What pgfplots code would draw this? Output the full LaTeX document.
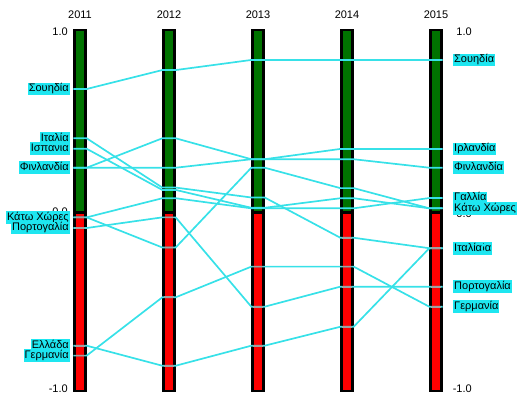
\documentclass[border=0pt]{standalone}
\usepackage{pgfplots}
\pgfplotsset{compat=1.18}
\usepackage{fontspec}
\setmainfont{Liberation Sans}
\definecolor{barg}{RGB}{0,115,0}
\definecolor{barr}{RGB}{255,0,0}
\definecolor{linec}{RGB}{55,225,232}
\definecolor{labc}{RGB}{30,230,240}
\definecolor{segg}{RGB}{160,160,160}
\newcommand{\lf}{\fontsize{11bp}{13bp}\selectfont}
% bar: outer left, outer right, inner left, inner right
\newcommand{\ybox}[4]{%
\addplot[draw=none, fill=black] coordinates {(#1,-1.0055)(#2,-1.0055)(#2,1.0055)(#1,1.0055)} -- cycle;
\addplot[draw=none, fill=barg] coordinates {(#3,-0.003)(#4,-0.003)(#4,0.9945)(#3,0.9945)} -- cycle;
\addplot[draw=none, fill=barr] coordinates {(#3,-0.9945)(#4,-0.9945)(#4,-0.019)(#3,-0.019)} -- cycle;
}
% country line: values 2011..2015
\newcommand{\countryline}[5]{%
\addplot[linec, line width=1.7bp, line join=round] coordinates {(-0.075,#1)(0.075,#1)(0.925,#2)(1.075,#2)(1.925,#3)(2.075,#3)(2.925,#4)(3.075,#4)(3.925,#5)(4.075,#5)};
}
\begin{document}
\begin{tikzpicture}
\begin{axis}[width=522bp, height=396bp, scale only axis,
  xmin=-0.8989, xmax=4.9663, ymin=-1.0277, ymax=1.1662,
  hide axis, clip=false]
\addplot[draw=none] coordinates {(-0.8989,-1.0277)(4.9663,1.1662)};
\ybox{-0.075}{0.075}{-0.048}{0.048}
\ybox{0.925}{1.075}{0.952}{1.048}
\ybox{1.925}{2.075}{1.952}{2.048}
\ybox{2.925}{3.075}{2.952}{3.048}
\ybox{3.925}{4.075}{3.952}{4.048}
% Ελλάδα
\countryline{-0.749}{-0.860}{-0.749}{-0.644}{-0.209}
% Ισπανία
\countryline{0.342}{0.114}{0.015}{0.068}{0.012}
% Ιρλανδία
\countryline{0.237}{0.400}{0.284}{0.341}{0.341}
% Γαλλία
\countryline{-0.038}{0.068}{0.012}{0.012}{0.069}
% Σουηδία
\countryline{0.673}{0.778}{0.834}{0.834}{0.834}
% Ιταλία
\countryline{0.400}{0.127}{0.072}{-0.151}{-0.209}
% Φινλανδία
\countryline{0.237}{0.237}{0.284}{0.284}{0.237}
% Κάτω Χώρες
\countryline{-0.038}{-0.205}{0.237}{0.124}{0.012}
% Πορτογαλία
\countryline{-0.097}{-0.038}{-0.533}{-0.422}{-0.422}
% Γερμανία
\countryline{-0.804}{-0.481}{-0.311}{-0.311}{-0.533}
% grey parts of the lines on the red bars
\addplot[segg, line width=1.7bp, unbounded coords=jump] coordinates {
(-0.06,-0.038)(0.06,-0.038)(0,nan)
(-0.06,-0.097)(0.06,-0.097)(0,nan)
(-0.06,-0.749)(0.06,-0.749)(0,nan)
(-0.06,-0.804)(0.06,-0.804)(0,nan)
(0.94,-0.205)(1.06,-0.205)(0,nan)
(0.94,-0.038)(1.06,-0.038)(0,nan)
(0.94,-0.481)(1.06,-0.481)(0,nan)
(0.94,-0.860)(1.06,-0.860)(0,nan)
(1.94,-0.533)(2.06,-0.533)(0,nan)
(1.94,-0.749)(2.06,-0.749)(0,nan)
(1.94,-0.311)(2.06,-0.311)(0,nan)
(2.94,-0.151)(3.06,-0.151)(0,nan)
(2.94,-0.422)(3.06,-0.422)(0,nan)
(2.94,-0.644)(3.06,-0.644)(0,nan)
(2.94,-0.311)(3.06,-0.311)(0,nan)
(3.94,-0.209)(4.06,-0.209)(0,nan)
(3.94,-0.422)(4.06,-0.422)(0,nan)
(3.94,-0.533)(4.06,-0.533)
};
% year labels
\node[font=\lf] at (axis cs:0,1.083) {2011};
\node[font=\lf] at (axis cs:1,1.083) {2012};
\node[font=\lf] at (axis cs:2,1.083) {2013};
\node[font=\lf] at (axis cs:3,1.083) {2014};
\node[font=\lf] at (axis cs:4,1.083) {2015};
% scale labels
\node[font=\lf, anchor=east, inner sep=0pt] at (axis cs:-0.135,0.989) {1.0};
\node[font=\lf, anchor=east, inner sep=0pt] at (axis cs:-0.135,-0.005) {0.0};
\node[font=\lf, anchor=east, inner sep=0pt] at (axis cs:-0.135,-0.989) {-1.0};
\node[font=\lf, anchor=east, inner sep=0pt] at (axis cs:4.404,0.989) {1.0};
\node[font=\lf, anchor=east, inner sep=0pt] at (axis cs:4.404,-0.018) {0.0};
\node[font=\lf, anchor=east, inner sep=0pt] at (axis cs:4.404,-0.989) {-1.0};
% country labels
\tikzset{lab/.style={font=\lf, fill=labc, inner xsep=1bp, inner ysep=0.75bp, text height=8.5bp, text depth=2.7bp}}
\node[lab, anchor=east] at (axis cs:-0.1124,-0.749) {Ελλάδα};
\node[lab, anchor=west] at (axis cs:4.191,-0.209) {Ελλάδα};
\node[lab, anchor=east] at (axis cs:-0.1124,0.342) {Ισπανία};
\node[lab, anchor=west] at (axis cs:4.191,0.012) {Ισπανία};
\node[lab, anchor=east] at (axis cs:-0.1124,0.237) {Ιρλανδία};
\node[lab, anchor=west] at (axis cs:4.191,0.341) {Ιρλανδία};
\node[lab, anchor=east] at (axis cs:-0.1124,-0.038) {Γαλλία};
\node[lab, anchor=west] at (axis cs:4.191,0.069) {Γαλλία};
\node[lab, anchor=east] at (axis cs:-0.1124,0.673) {Σουηδία};
\node[lab, anchor=west] at (axis cs:4.191,0.834) {Σουηδία};
\node[lab, anchor=east] at (axis cs:-0.1124,0.400) {Ιταλία};
\node[lab, anchor=west] at (axis cs:4.191,-0.209) {Ιταλία};
\node[lab, anchor=east] at (axis cs:-0.1124,0.237) {Φινλανδία};
\node[lab, anchor=west] at (axis cs:4.191,0.237) {Φινλανδία};
\node[lab, anchor=east] at (axis cs:-0.1124,-0.038) {Κάτω Χώρες};
\node[lab, anchor=west] at (axis cs:4.191,0.012) {Κάτω Χώρες};
\node[lab, anchor=east] at (axis cs:-0.1124,-0.097) {Πορτογαλία};
\node[lab, anchor=west] at (axis cs:4.191,-0.422) {Πορτογαλία};
\node[lab, anchor=east] at (axis cs:-0.1124,-0.804) {Γερμανία};
\node[lab, anchor=west] at (axis cs:4.191,-0.533) {Γερμανία};
\end{axis}
\end{tikzpicture}
\end{document}
